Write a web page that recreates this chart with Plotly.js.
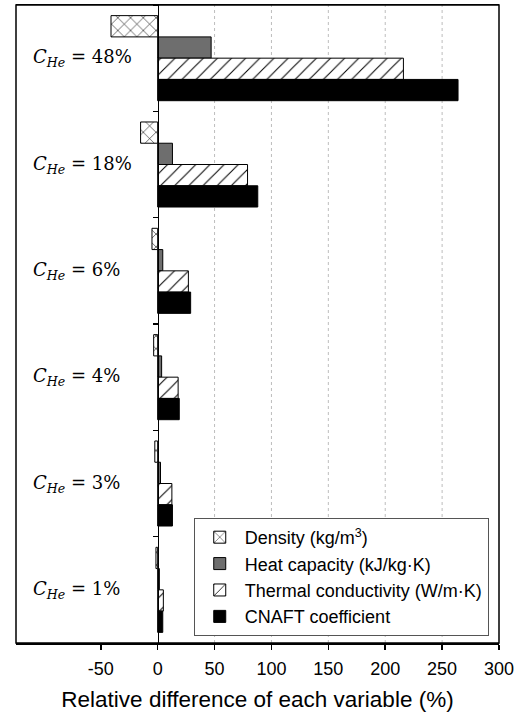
<!DOCTYPE html>
<html>
<head>
<meta charset="utf-8">
<script src="https://cdn.plot.ly/plotly-3.0.1.min.js"></script>
<style>
  html, body { margin: 0; padding: 0; background: #ffffff; }
  #chart { width: 529px; height: 712px; }
</style>
</head>
<body>
<div id="chart"></div>
<script>
// helium concentrations, top to bottom
const helium = ['48%', '18%', '6%', '4%', '3%', '1%'];

const seriesNames = [
  'Density (kg/m<sup>3</sup>)',
  'Heat capacity (kJ/kg\u00b7K)',
  'Thermal conductivity (W/m\u00b7K)',
  'CNAFT coefficient'
];

// relative difference (%) per concentration
const density = [-41, -15, -5, -3.5, -2.5, -1.5];
const heatCapacity = [47, 13, 4.5, 3.5, 2.5, 1.5];
const thermalCond = [216, 79, 27, 18, 12.5, 5];
const cnaft = [264, 88, 29, 19, 13, 4.5];

const xTicks = [-50, 0, 50, 100, 150, 200, 250, 300];
const xTickText = ['-50', '0', '50', '100', '150', '200', '250', '300'];
const gridVals = [50, 100, 150, 200, 250];
const xRange = [-124.5, 300];

const seriesValues = [density, heatCapacity, thermalCond, cnaft];
const seriesStyle = [
  { color: '#ffffff', pattern: { shape: 'x', fgcolor: '#000000', bgcolor: '#ffffff', size: 9, solidity: 0.12 } },
  { color: '#6e6e6e' },
  { color: '#ffffff', pattern: { shape: '/', fgcolor: '#000000', bgcolor: '#ffffff', size: 10, solidity: 0.1 } },
  { color: '#000000' }
];

const traces = seriesValues.map((vals, i) => ({
  type: 'bar',
  orientation: 'h',
  name: seriesNames[i],
  x: vals,
  y: helium,
  marker: { ...seriesStyle[i], line: { color: '#000000', width: 1 } }
}));

const zeroPos = -xRange[0] / (xRange[1] - xRange[0]);

const layout = {
  width: 529,
  height: 712,
  paper_bgcolor: '#ffffff',
  plot_bgcolor: '#ffffff',
  font: { family: 'Liberation Sans, Arial, sans-serif', color: '#000000' },
  margin: { l: 16, r: 30, t: 5, b: 69 },
  barmode: 'group',
  bargap: 0.2,
  bargroupgap: 0,
  showlegend: true,
  legend: {
    x: 0.368, y: 0.011, xanchor: 'left', yanchor: 'bottom',
    bgcolor: '#ffffff', bordercolor: '#555555', borderwidth: 1,
    font: { size: 18, family: 'Liberation Sans, Arial, sans-serif' },
    tracegroupgap: 0, itemwidth: 40
  },
  xaxis: {
    range: xRange,
    tickvals: xTicks,
    ticktext: xTickText,
    ticks: 'outside', ticklen: 5, tickwidth: 1.5, tickcolor: '#000000',
    ticklabelstandoff: 4,
    tickfont: { size: 18 },
    showgrid: false,
    zeroline: false,
    showline: true, linecolor: '#000000', linewidth: 1.5, mirror: true,
    title: { text: 'Relative difference of each variable (%)', font: { size: 22.5 }, standoff: 14 }
  },
  yaxis: {
    type: 'category',
    autorange: 'reversed',
    anchor: 'free',
    position: zeroPos,
    showline: true, linecolor: '#000000', linewidth: 1.5,
    ticks: 'outside', tickson: 'boundaries', ticklen: 5, tickwidth: 1.5, tickcolor: '#000000',
    showticklabels: false,
    showgrid: false,
    zeroline: false
  },
  shapes: [
    ...gridVals.map(v => ({
      type: 'line', xref: 'x', yref: 'paper', x0: v, x1: v, y0: 0, y1: 1,
      layer: 'below', line: { color: '#bdbdbd', width: 1, dash: 'dot' }
    })),
    { type: 'rect', xref: 'paper', yref: 'paper', x0: 0, x1: 1, y0: 0, y1: 1,
      line: { color: '#000000', width: 1.5 } }
  ],
  annotations: helium.map(h => ({
    xref: 'paper', yref: 'y', x: 0.032, y: h,
    xanchor: 'left', yanchor: 'middle', showarrow: false,
    text: '<i>C</i><sub><i>He</i></sub> = ' + h,
    font: { family: 'DejaVu Serif, Liberation Serif, serif', size: 18, color: '#000000' }
  }))
};

Plotly.newPlot('chart', traces, layout, { displayModeBar: false, staticPlot: true });
</script>
</body>
</html>
